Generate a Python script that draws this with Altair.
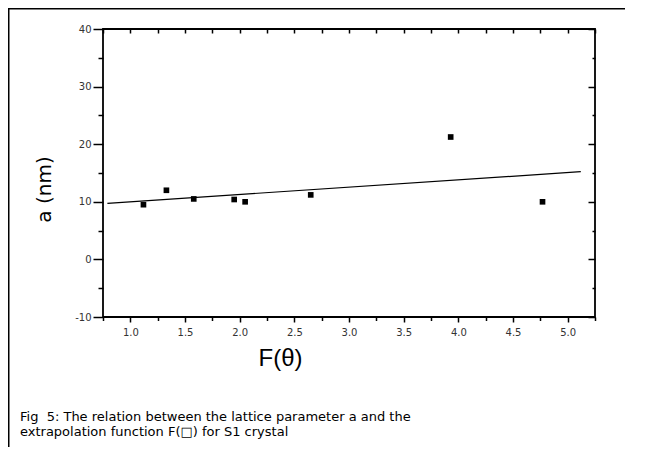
import altair as alt
import pandas as pd

# Data
f_theta = [1.12, 1.33, 1.58, 1.95, 2.05, 2.65, 3.93, 4.77]
a_nm = [9.5, 12.0, 10.5, 10.4, 10.0, 11.2, 21.25, 10.0]

fit_x = [0.79, 5.12]
fit_y = [9.74, 15.23]

x_major = [1.0, 1.5, 2.0, 2.5, 3.0, 3.5, 4.0, 4.5, 5.0]
x_minor = [0.75, 1.25, 1.75, 2.25, 2.75, 3.25, 3.75, 4.25, 4.75, 5.25]
x_all = sorted(x_major + x_minor)
y_major = [-10, 0, 10, 20, 30, 40]
y_minor = [-5, 5, 15, 25, 35]

x_title = "F(θ)"
y_title = "a (nm)"
caption = ("Fig \u00a05: The relation between the lattice parameter a and the\n"
           "extrapolation function F(\u25a1) for S1 crystal")

W, H = 492, 288
PAD_L, PAD_T = 95, 21

pts = pd.DataFrame({"x": f_theta, "y": a_nm})
fit = pd.DataFrame({"x": fit_x, "y": fit_y})

xs = alt.Scale(domain=[0.75, 5.25], nice=False, zero=False)
ys = alt.Scale(domain=[-10, 40], nice=False, zero=False)

tick_common = dict(domain=False, grid=False, tickColor="black", tickWidth=1.5)

points = alt.Chart(pts).mark_square(size=32, color="black", opacity=1).encode(
    x=alt.X("x:Q", scale=xs, axis=alt.Axis(
        orient="bottom", values=x_major, format=".1f", tickSize=5,
        labelFont="DejaVu Sans", labelFontSize=10, labelColor="#333",
        labelPadding=5, title=x_title, titleFont="Liberation Sans",
        titleFontSize=24, titleFontWeight="normal", titleColor="black",
        titleX=177, titleY=48, titleBaseline="alphabetic", titleAlign="center",
        **tick_common)),
    y=alt.Y("y:Q", scale=ys, axis=alt.Axis(
        orient="left", values=y_major, tickSize=10,
        labelExpr="replace(datum.label, '\u2212', '-')",
        labelFont="DejaVu Sans", labelFontSize=10, labelColor="#333",
        labelPadding=2, title=y_title, titleFont="DejaVu Sans",
        titleFontSize=20, titleFontWeight="normal", titleColor="black",
        titleX=-59, titleY=160, titleAngle=270, titleBaseline="middle",
        titleAlign="center", **tick_common)),
)

line = alt.Chart(fit).mark_line(color="black", strokeWidth=1.2).encode(
    x=alt.X("x:Q", scale=xs, axis=alt.Axis(
        orient="bottom", values=x_minor, tickSize=3.5, labels=False, title="",
        **tick_common)),
    y=alt.Y("y:Q", scale=ys, axis=alt.Axis(
        orient="left", values=y_minor, tickSize=5, labels=False, title="",
        **tick_common)),
)

mirror1 = alt.Chart(pts).mark_square(opacity=0).encode(
    x=alt.X("x:Q", scale=xs, axis=alt.Axis(
        orient="bottom", offset=-H, values=x_all, tickSize=4, labels=False,
        title="", **tick_common)),
    y=alt.Y("y:Q", scale=ys, axis=alt.Axis(
        orient="left", offset=-W, values=y_major, tickSize=7, labels=False,
        title="", **tick_common)),
)

mirror2 = alt.Chart(pts).mark_square(opacity=0).encode(
    x=alt.X("x:Q", scale=xs, axis=None),
    y=alt.Y("y:Q", scale=ys, axis=alt.Axis(
        orient="left", offset=-W, values=y_minor, tickSize=3, labels=False,
        title="", **tick_common)),
)

one = alt.Data(values=[{"k": 1}])

frame = alt.Chart(one).mark_rect(
    fill=None, stroke="black", strokeWidth=1.5, clip=False
).encode(
    x=alt.value(0.75 - PAD_L), y=alt.value(0.75 - PAD_T),
    x2=alt.value(800), y2=alt.value(800),
)

cap = alt.Chart(one).mark_text(
    align="left", baseline="alphabetic", font="DejaVu Sans", fontSize=13,
    color="black", lineBreak="\n", lineHeight=15,
).encode(
    x=alt.value(20 - 8 - PAD_L), y=alt.value(421 - 8 - PAD_T),
    text=alt.value(caption),
)

chart = alt.layer(frame, line, points, mirror1, mirror2, cap).resolve_axis(
    x="independent", y="independent"
).properties(
    width=W, height=H,
    padding={"left": PAD_L, "top": PAD_T, "right": 30, "bottom": 130},
    autosize=alt.AutoSizeParams(type="none"),
    background="white",
).configure_view(stroke="black", strokeWidth=1.8)

chart.save("out.html", embed_options={"renderer": "svg", "actions": False})
